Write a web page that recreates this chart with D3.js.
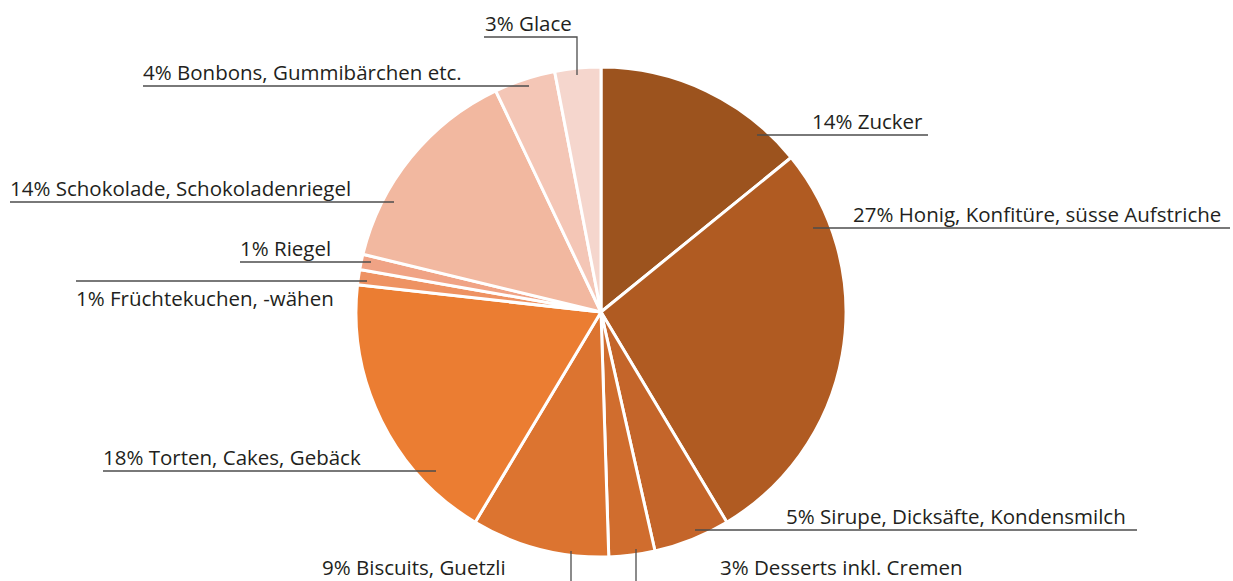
<!DOCTYPE html>
<html>
<head>
<meta charset="utf-8">
<script src="https://cdn.jsdelivr.net/npm/d3@7"></script>
<style>
  body { margin: 0; background: #fff; }
  text { font-family: "Open Sans", sans-serif; fill: #231f20; }
</style>
</head>
<body>
<svg width="1233" height="581"></svg>
<script>
// Anteile, im Uhrzeigersinn ab 12 Uhr
var categories = [
  "Zucker",
  "Honig, Konfitüre, süsse Aufstriche",
  "Sirupe, Dicksäfte, Kondensmilch",
  "Desserts inkl. Cremen",
  "Biscuits, Guetzli",
  "Torten, Cakes, Gebäck",
  "Früchtekuchen, -wähen",
  "Riegel",
  "Schokolade, Schokoladenriegel",
  "Bonbons, Gummibärchen etc.",
  "Glace"
];
var shares = [14, 27, 5, 3, 9, 18, 1, 1, 14, 4, 3];
var colors = ["#9c531e", "#b05b22", "#c4652a", "#d06d2e", "#dc7430", "#eb7d32",
              "#ee9262", "#f0a385", "#f2b8a0", "#f4c6b6", "#f5d6cd"];

// Beschriftungen: Textposition und Führungslinie
var labelPos = [
  { tx: 812, ty: 129, line: [[757, 135], [928, 135]] },
  { tx: 853, ty: 222, line: [[813, 228], [1230, 228]] },
  { tx: 786, ty: 524, line: [[695, 530], [1137, 530]] },
  { tx: 720, ty: 575, line: [[636, 549], [636, 581]] },
  { tx: 322, ty: 575, line: [[571, 551], [571, 581]] },
  { tx: 103, ty: 465, line: [[103, 471], [436, 471]] },
  { tx: 76, ty: 306, line: [[76, 281], [367, 281]] },
  { tx: 240, ty: 256, line: [[240, 262], [371, 262]] },
  { tx: 10, ty: 196, line: [[10, 202], [394, 202]] },
  { tx: 143, ty: 80, line: [[143, 86], [529, 86]] },
  { tx: 485, ty: 31, line: [[484, 37], [577, 37], [577, 75]] }
];

var svg = d3.select("svg");
var cx = 601, cy = 312, radius = 245;

var data = categories.map(function(c, i) {
  return { name: c, value: shares[i], color: colors[i], pos: labelPos[i] };
});

var pie = d3.pie()
  .sort(null)
  .value(function(d) { return d.value; });

var arc = d3.arc()
  .innerRadius(0)
  .outerRadius(radius);

var g = svg.append("g")
  .attr("transform", "translate(" + cx + "," + cy + ")");

g.selectAll("path")
  .data(pie(data))
  .enter().append("path")
  .attr("d", arc)
  .attr("fill", function(d) { return d.data.color; })
  .attr("stroke", "#fff")
  .attr("stroke-width", 3)
  .attr("stroke-linejoin", "round");

var lineGen = d3.line();

var labels = svg.append("g").attr("class", "labels");

labels.selectAll("path")
  .data(data)
  .enter().append("path")
  .attr("d", function(d) { return lineGen(d.pos.line); })
  .attr("fill", "none")
  .attr("stroke", "#4d4d4d")
  .attr("stroke-width", 1.3);

labels.selectAll("text")
  .data(data)
  .enter().append("text")
  .attr("x", function(d) { return d.pos.tx; })
  .attr("y", function(d) { return d.pos.ty; })
  .attr("font-size", 20.5)
  .text(function(d) { return d.value + "% " + d.name; });
</script>
</body>
</html>
